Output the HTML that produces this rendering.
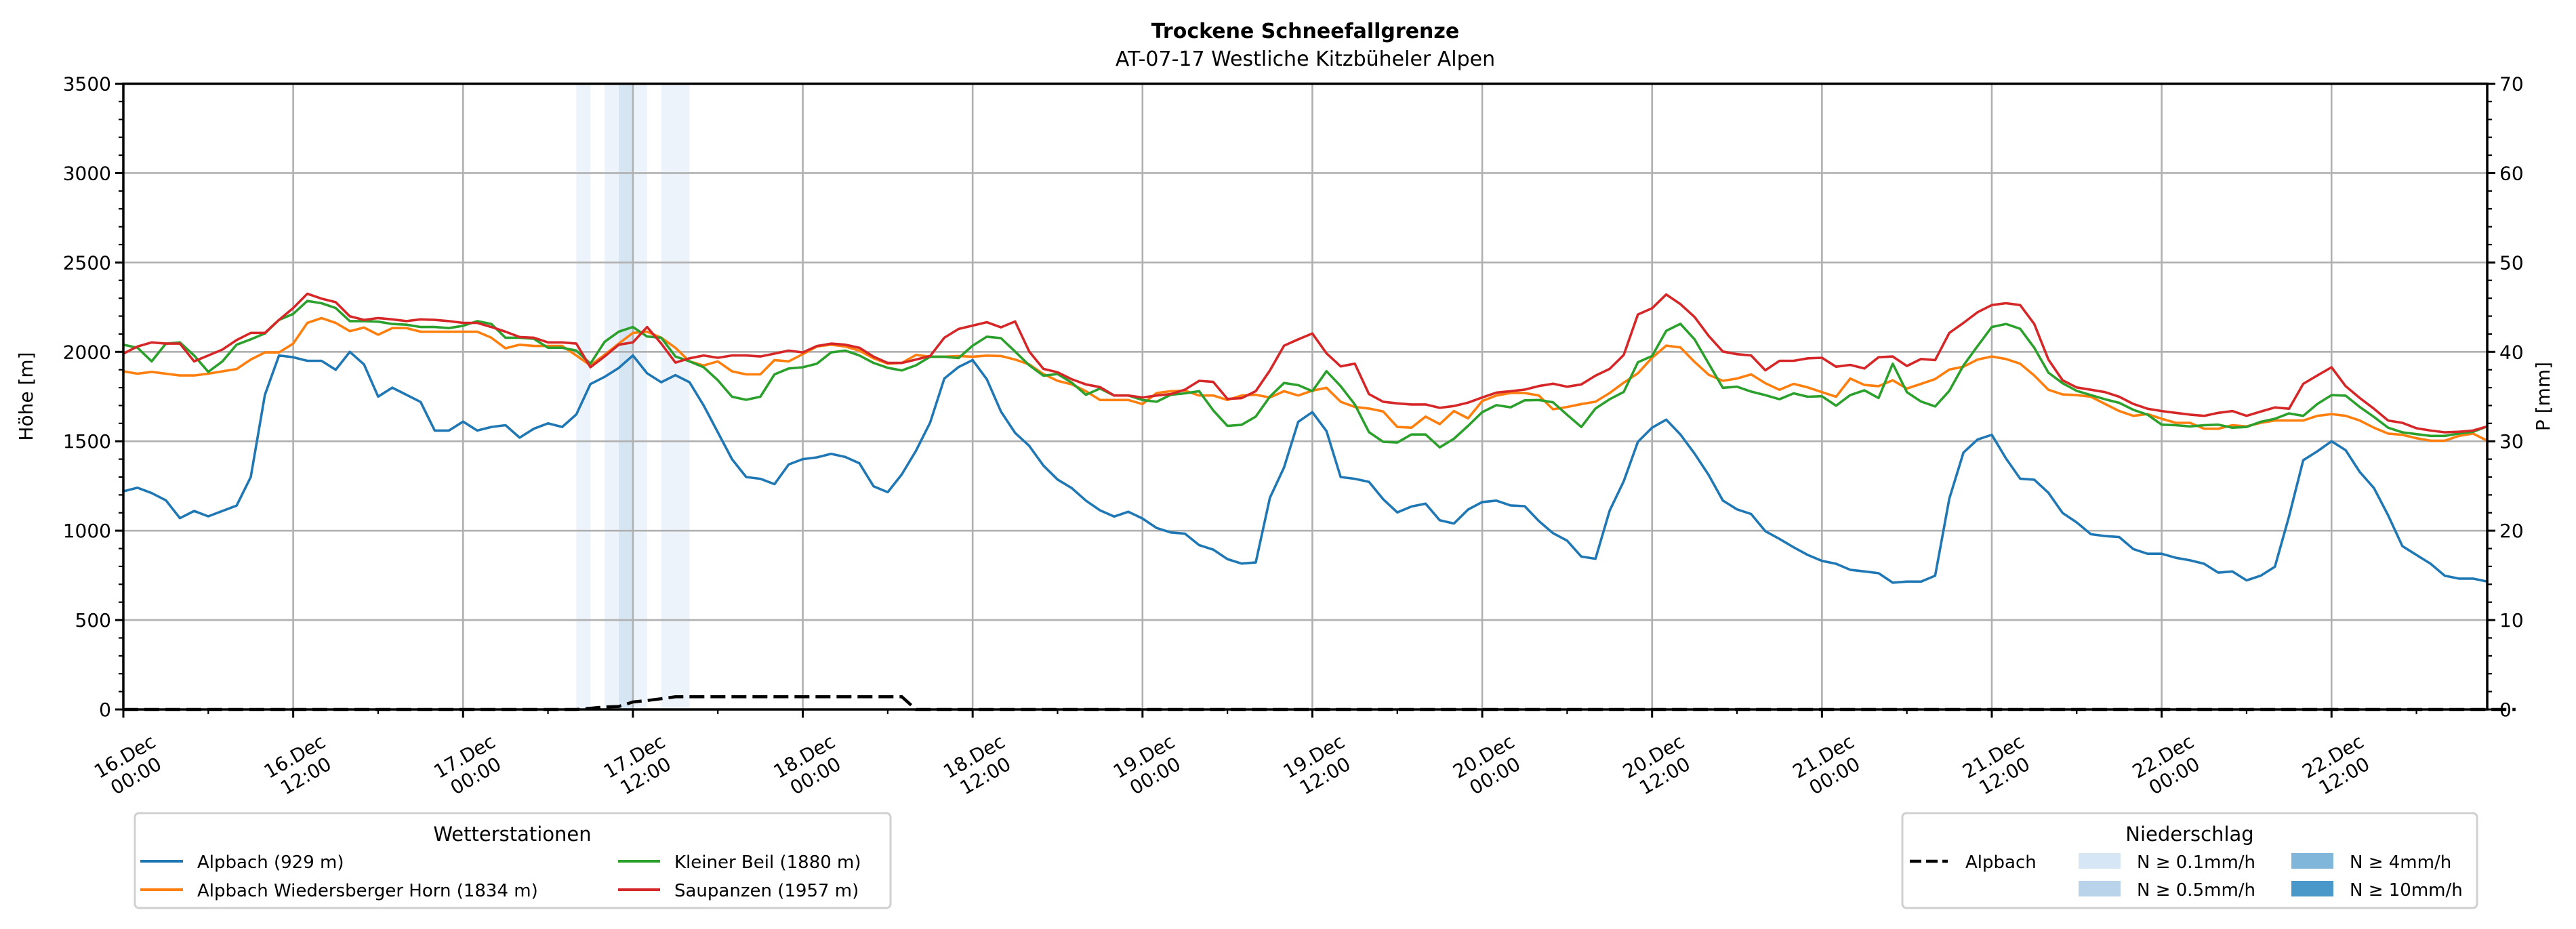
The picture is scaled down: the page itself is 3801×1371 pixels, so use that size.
<!DOCTYPE html>
<html><head><meta charset="utf-8">
<style>
html,body{margin:0;padding:0;background:#fff;}
svg{display:block;font-family:"DejaVu Sans","Liberation Sans",sans-serif;}
</style></head>
<body>
<svg id="chart" width="3801" height="1371" viewBox="0 0 3801 1371" xmlns="http://www.w3.org/2000/svg">
<rect width="3801" height="1371" fill="#fff"/>
<text x="1926" y="56" text-anchor="middle" font-size="30" font-weight="bold">Trockene Schneefallgrenze</text>
<text x="1926" y="97" text-anchor="middle" font-size="30">AT-07-17 Westliche Kitzbüheler Alpen</text>
<g id="bands"></g>
<g id="grid"></g>
<g id="series"></g>
<g id="axes"></g>
<text transform="translate(48,585) rotate(-90)" text-anchor="middle" font-size="28">Höhe [m]</text>
<text transform="translate(3762,585) rotate(-90)" text-anchor="middle" font-size="28">P [mm]</text>

<g>
<rect x="199" y="1200" width="1115" height="140" rx="6" fill="#fff" stroke="#d0d0d0" stroke-width="3"/>
<text x="756" y="1241" text-anchor="middle" font-size="29">Wetterstationen</text>
<g><line x1="207" y1="1271" x2="270" y2="1271" stroke="#1f77b4" stroke-width="4"/><text x="291" y="1281" font-size="26">Alpbach (929 m)</text></g>
<g><line x1="207" y1="1313" x2="270" y2="1313" stroke="#ff7f0e" stroke-width="4"/><text x="291" y="1323" font-size="26">Alpbach Wiedersberger Horn (1834 m)</text></g>
<g><line x1="912" y1="1271" x2="974" y2="1271" stroke="#2ca02c" stroke-width="4"/><text x="995" y="1281" font-size="26">Kleiner Beil (1880 m)</text></g>
<g><line x1="912" y1="1313" x2="974" y2="1313" stroke="#d62728" stroke-width="4"/><text x="995" y="1323" font-size="26">Saupanzen (1957 m)</text></g>
</g>

<g>
<rect x="2807" y="1200" width="848" height="140" rx="6" fill="#fff" stroke="#d0d0d0" stroke-width="3"/>
<text x="3231" y="1241" text-anchor="middle" font-size="29">Niederschlag</text>
<g><line x1="2818" y1="1271" x2="2874" y2="1271" stroke="#000" stroke-width="4.5" stroke-dasharray="17,7"/><text x="2900" y="1281" font-size="26">Alpbach</text></g>
<g><rect x="3067" y="1259" width="62" height="23" fill="#d6e6f4"/><text x="3153" y="1281" font-size="26">N ≥ 0.1mm/h</text></g>
<g><rect x="3067" y="1300" width="62" height="23" fill="#b9d4ea"/><text x="3153" y="1322" font-size="26">N ≥ 0.5mm/h</text></g>
<g><rect x="3381" y="1259" width="62" height="23" fill="#80b6da"/><text x="3467" y="1281" font-size="26">N ≥ 4mm/h</text></g>
<g><rect x="3381" y="1300" width="62" height="23" fill="#4a97c9"/><text x="3467" y="1322" font-size="26">N ≥ 10mm/h</text></g>
</g>
</svg>
<script>
// ---- data ----
const xTickLabels = ["16.Dec|00:00","16.Dec|12:00","17.Dec|00:00","17.Dec|12:00","18.Dec|00:00","18.Dec|12:00","19.Dec|00:00","19.Dec|12:00","20.Dec|00:00","20.Dec|12:00","21.Dec|00:00","21.Dec|12:00","22.Dec|00:00","22.Dec|12:00"];
const leftTicks = [0,500,1000,1500,2000,2500,3000,3500];
const rightTicks = [0,10,20,30,40,50,60,70];
const alpbach = [1220,1240,1210,1170,1070,1110,1080,1110,1140,1300,1760,1980,1970,
1950,1950,1900,2000,1930,1750,1800,1760,1720,1560,1560,1610,1560,1580,1590,1520,1570,1600,1580,1650,
1820,1860,1910,1980,1880,1830,1870,1830,1700,1550,1400,1300,1290,1260,1370,1400,1410,1430,
1412,1377,1248,1215,1315,1447,1605,1851,1915,1954,
1847,1667,1547,1474,1364,1286,1238,1168,1114,1079,1106,1068,1015,990,983,919,894,841,816,822,
1184,1354,1609,1663,1557,1300,1290,1273,1176,1102,1135,1151,1058,1040,1118,1160,1168,1141,1137,1054,
986,944,855,843,1112,1277,1497,1576,1621,1538,1431,
1311,1169,1119,1093,997,954,907,864,831,
815,781,772,762,709,715,715,748,1179,1437,1510,1536,1404,1291,1285,1212,1099,1046,980,970,964,897,871,871,848,834,815,765,772,722,748,798,1080,1394,1444,1500,1450,1328,1238,1086,914,864,815,748,732,732,715];
const wiedersberg = [1891,1878,1888,1878,1868,1868,1878,1891,1904,1957,1997,1997,2046,2162,2189,2162,2116,2136,2096,2133,
2133,2113,2113,2113,2113,2113,2079,2020,2040,2033,2033,2033,1980,1924,1984,2046,2106,2113,2079,2023,
1947,1924,1947,1891,1874,1874,1954,1947,1987,2030,2040,2030,2007,
1964,1934,1938,1983,1973,1973,1977,1973,1979,1977,1957,1930,1876,1838,1818,1780,1731,1731,1731,1708,1770,1780,1783,1756,1756,1731,1756,1760,1745,1780,1756,1783,1799,1721,1692,1683,1667,1580,1576,1638,1596,1669,1628,1725,1756,1770,1770,1756,1679,1692,1708,1721,1770,1828,1880,1967,2035,2025,1944,1872,1838,
1851,1874,1825,1788,1821,1801,1775,1749,1851,1815,1808,1841,1795,1821,1848,1901,1917,1957,1974,1960,1934,1868,1788,1762,1758,1749,1709,1669,1642,1652,1626,1603,1603,1570,1570,1590,1583,1603,1616,1616,1616,1642,1652,1642,1616,1576,1543,1536,1517,1503,1503,1530,1543,1503];
const kleinerBeil = [2040,2023,1947,2046,2053,1980,1888,1947,2040,2070,2103,2179,2212,2285,2272,2245,2172,2172,2169,2156,
2152,2139,2139,2133,2146,2172,2156,2079,2079,2073,2023,2023,2007,1934,2056,2113,2139,2086,2079,1974,
1947,1914,1841,1749,1732,1749,1874,1907,1914,1934,1997,2007,1980,
1938,1911,1896,1925,1973,1973,1965,2035,2085,2077,2002,1925,1867,1876,1828,1760,1795,1756,1756,1731,1721,1760,1768,1780,1673,1586,1592,1638,1750,1826,1814,1780,1892,1808,1706,1551,1497,1493,1538,1538,1466,1514,1586,1663,1702,1690,1729,1731,1718,1648,1580,1683,1735,1776,1942,1977,2118,2157,2070,1934,1799,
1805,1778,1758,1735,1768,1749,1752,1699,1758,1785,1742,1934,1775,1722,1695,1782,1924,2033,2139,2156,2129,2023,1884,1825,1782,1758,1735,1715,1676,1649,1593,1590,1583,1590,1593,1576,1580,1609,1626,1656,1642,1709,1758,1755,1692,1636,1576,1550,1540,1530,1530,1543,1553,1583];
const saupanzen = [1990,2030,2053,2046,2046,1947,1980,2013,2066,2106,2106,2179,2245,2325,2298,2278,2199,2179,2189,2182,
2172,2182,2179,2172,2162,2162,2139,2113,2083,2079,2053,2053,2046,1914,1974,2040,2053,2139,2046,1940,
1964,1980,1967,1980,1980,1974,1990,2007,1997,2033,2046,2040,2023,
1973,1938,1938,1957,1977,2079,2128,2147,2166,2137,2170,2002,1905,1886,1847,1818,1803,1756,1756,1745,1756,1764,1789,1838,1832,1737,1741,1780,1896,2035,2070,2103,1992,1919,1934,1764,1721,1712,1706,1706,1687,1697,1716,1745,1772,1780,1789,1809,1822,1805,1818,1867,1905,1983,2209,2244,2321,2267,2195,2089,2002,
1987,1980,1897,1950,1950,1964,1967,1917,1927,1907,1970,1974,1921,1960,1954,2106,2162,2222,2262,2272,2262,2156,1957,1841,1801,1788,1775,1749,1709,1682,1669,1659,1649,1642,1659,1669,1642,1666,1689,1682,1821,1868,1914,1808,1742,1682,1616,1603,1573,1560,1550,1553,1560,1583];
const precipAlpbach = [0,0,0,0,0,0,0,0,0,0,0,0,0,0,0,0,0,0,0,0,0,0,0,0,0,0,0,0,0,0,0,0,0,
0.13,0.28,0.33,0.83,1.0,1.2,1.42,1.42,1.42,1.42,1.42,1.42,1.42,1.42,1.42,1.42,1.42,1.42,1.42,1.42,1.42,1.42,1.42,
0,0,0,0,0,0,0,0,0,0,0,0,0,0,0,0,0,0,0,0,0,0,0,0,0,0,0,0,0,0,0,0,0,0,0,0,0,0,0,0,0,0,0,0,0,0,0,0,0,0,0,0,0,0,0,0,0,0,0,0,0,0,0,0,0,0,0,0,0,0,0,0,0,0,0,0,0,0,0,0,0,0,0,0,0,0,0,0,0,0,0,0,0,0,0,0,0,0,0,0,0,0,0,0,0,0,0,0,0,0,0,0,0,0];
const bandHours = [32,34,35,36,38,39];
const bandLevels = [0.1,0.1,0.5,0.1,0.1,0.1];

// ---- scales ----
const L=182, R=3670, T=123.5, B=1047, HMAX=167;
const px = h => L + h/HMAX*(R-L);
const pyL = v => B - v/3500*(B-T);
const pyR = v => B - v/70*(B-T);
const NS="http://www.w3.org/2000/svg";
function mk(tag, attrs, parent){const e=document.createElementNS(NS,tag);for(const k in attrs)e.setAttribute(k,attrs[k]);parent.appendChild(e);return e;}

const bands=document.getElementById('bands');
bandHours.forEach((h,i)=>{
  const r=mk('rect',{x:px(h),y:T,width:px(h+1)-px(h),height:B-T,fill:bandLevels[i]>=0.5?'#d5e5f2':'#edf3fb'},bands);
  
  
});

const grid=document.getElementById('grid');
leftTicks.forEach(v=>{ if(v>0&&v<3500){const g=mk('line',{x1:L,x2:R,y1:pyL(v),y2:pyL(v),stroke:'#b0b0b0','stroke-width':2.6},grid);
  
  }});
xTickLabels.forEach((t,i)=>{ if(i>0){const g=mk('line',{x1:px(i*12),x2:px(i*12),y1:T,y2:B,stroke:'#b0b0b0','stroke-width':2.6},grid);
  
  }});

const ser=document.getElementById('series');
function line(data, color, name){
  const pts=data.map((v,i)=>px(i).toFixed(1)+','+pyL(v).toFixed(1)).join(' ');
  const p=mk('polyline',{points:pts,fill:'none',stroke:color,'stroke-width':3.6,'stroke-linejoin':'round'},ser);
  
  
}
const pp=mk('polyline',{points:precipAlpbach.map((v,i)=>px(i).toFixed(1)+','+pyR(v).toFixed(1)).join(' '),fill:'none',stroke:'#000','stroke-width':4.5,'stroke-dasharray':'22,9'},ser);


line(alpbach,'#1f77b4','line-alpbach');
line(wiedersberg,'#ff7f0e','line-wiedersberger-horn');
line(kleinerBeil,'#2ca02c','line-kleiner-beil');
line(saupanzen,'#d62728','line-saupanzen');

const ax=document.getElementById('axes');
const frame=mk('rect',{x:L,y:T,width:R-L,height:B-T,fill:'none',stroke:'#000','stroke-width':3.5},ax);


for(let v=0;v<=3500;v+=100){const maj=v%500===0;mk('line',{x1:L,x2:L-(maj?12:7),y1:pyL(v),y2:pyL(v),stroke:'#000','stroke-width':maj?3:2.2},ax);}
for(let v=0;v<=70;v+=2){const maj=v%10===0;mk('line',{x1:R,x2:R+(maj?12:7),y1:pyR(v),y2:pyR(v),stroke:'#000','stroke-width':maj?3:2.2},ax);}
leftTicks.forEach(v=>{const t=mk('text',{x:L-18,y:pyL(v)+10,'text-anchor':'end','font-size':28},ax);t.textContent=v;
  
  });
rightTicks.forEach(v=>{const t=mk('text',{x:R+18,y:pyR(v)+10,'font-size':28},ax);t.textContent=v;
  
  });
for(let h=0;h<=HMAX;h+=6){const maj=h%12===0;mk('line',{x1:px(h),x2:px(h),y1:B,y2:B+(maj?12:7),stroke:'#000','stroke-width':maj?3:2.2},ax);}
xTickLabels.forEach((lab,i)=>{
  const parts=lab.split('|');
  const g=mk('g',{transform:`translate(${px(i*12)+10},${1130}) rotate(-30)`},ax);
  
  
  const t1=mk('text',{x:0,y:-6,'text-anchor':'middle','font-size':28},g);t1.textContent=parts[0];
  const t2=mk('text',{x:0,y:27,'text-anchor':'middle','font-size':28},g);t2.textContent=parts[1];
});
</script>
</body></html>
